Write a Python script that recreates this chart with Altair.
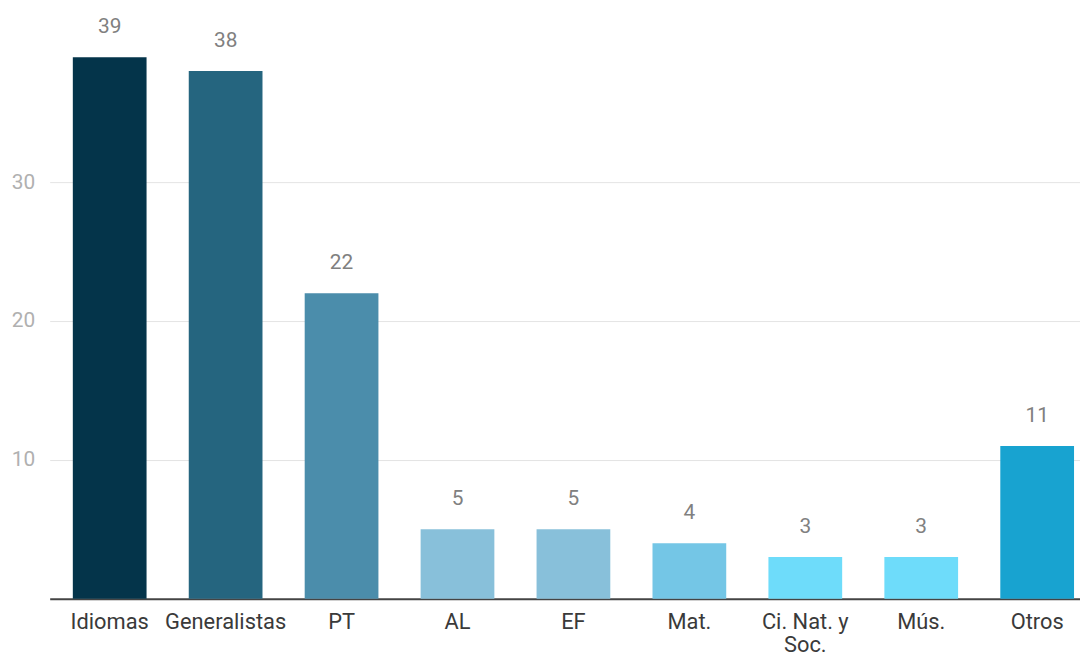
import altair as alt
import pandas as pd

categories = ["Idiomas", "Generalistas", "PT", "AL", "EF", "Mat.", "Ci. Nat. y Soc.", "Mús.", "Otros"]
values = [39, 38, 22, 5, 5, 4, 3, 3, 11]
colors = ["#04344A", "#25657F", "#4B8DAB", "#88C0DA", "#88C0DA", "#74C6E6", "#6EDCFA", "#6EDCFA", "#18A3D0"]
y_ticks = [10, 20, 30]

df = pd.DataFrame({"cat": categories, "val": values, "col": colors})

FONT = "Roboto"

x = alt.X(
    "cat:N",
    sort=categories,
    title=None,
    scale=alt.Scale(paddingInner=0.364, paddingOuter=0.1255, align=0.795, round=False),
    axis=alt.Axis(
        labelAngle=0,
        labelFont=FONT,
        labelFontSize=22,
        labelColor="#3a3a3a",
        labelPadding=13,
        ticks=False,
        tickSize=0,
        domainColor="#444444",
        domainWidth=2,
        labelLineHeight=23,
        labelExpr="datum.value == 'Ci. Nat. y Soc.' ? ['Ci. Nat. y', 'Soc.'] : datum.label",
        grid=False,
    ),
)

y = alt.Y(
    "val:Q",
    title=None,
    scale=alt.Scale(domain=[0, 42.37], nice=False, zero=True),
    axis=alt.Axis(
        values=y_ticks,
        labelFont=FONT,
        labelFontSize=21,
        labelColor="#b0b0b0",
        labelPadding=15,
        ticks=False,
        tickSize=0,
        domain=False,
        grid=True,
        gridColor="#e4e4e4",
        gridWidth=1,
    ),
)

base = alt.Chart(df).encode(x=x, y=y)

bars = base.mark_bar().encode(
    color=alt.Color("col:N", scale=None, legend=None),
)

labels = base.mark_text(
    font=FONT, fontSize=21, color="#808080", baseline="alphabetic", dy=-24
).encode(
    text="val:Q",
)

chart = (
    alt.layer(bars, labels)
    .properties(
        width=1038,
        height=592.7,
        padding={"left": 42, "top": 0, "right": 0, "bottom": 56},
        autosize=alt.AutoSizeParams(type="none"),
        background="white",
    )
    .configure_view(strokeWidth=0, stroke="transparent")
)

chart.save("out.html", embed_options={"renderer": "svg", "actions": False})
